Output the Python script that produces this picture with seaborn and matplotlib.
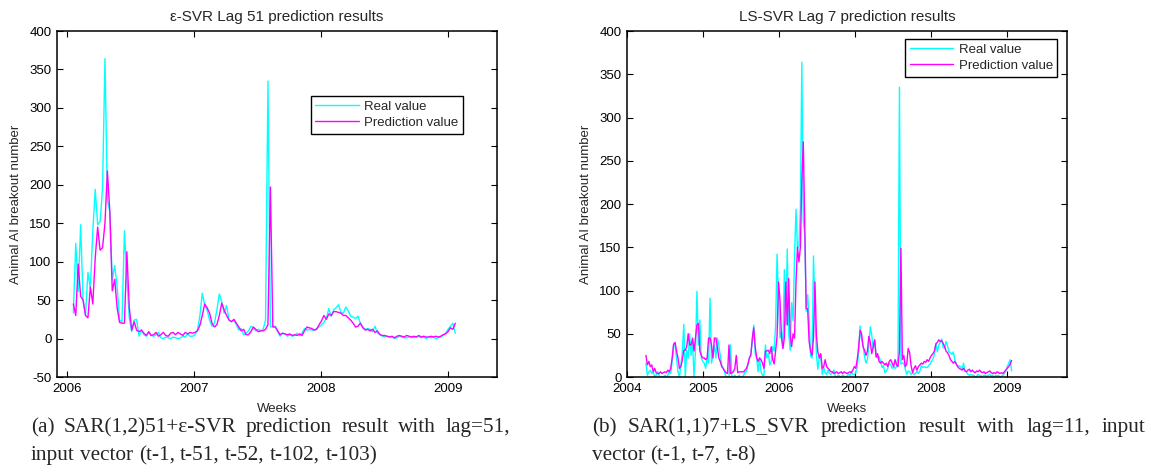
import matplotlib
matplotlib.use("Agg")
import matplotlib.pyplot as plt
import matplotlib.dates as mdates
import numpy as np
import pandas as pd
import seaborn as sns

# ---------------- data (weekly counts) ----------------
# real values, 2004-04 .. 2006-01 (only shown in the LS-SVR chart)
real_early = [16, 2, 6, 8, 4, 6, 0, 2, 6, 2,
              0, 0, 0, 2, 0, 2, 6, 4, 18, 37,
              37, 22, 6, 0, 14, 30, 61, 0, 31, 22,
              50, 25, 40, 0, 30, 99, 37, 66, 22, 18,
              16, 10, 22, 16, 91, 16, 25, 37, 22, 45,
              37, 25, 14, 10, 6, 0, 0, 0, 37, 0,
              0, 2, 0, 0, 2, 0, 0, 2, 6, 6,
              14, 22, 27, 40, 60, 27, 22, 6, 22, 6,
              2, 2, 37, 22, 27, 14, 18, 35, 30, 60,
              142, 91, 45, 52]
# real values, 2006-01 .. 2009-01 (both charts)
real_values = [33, 124, 61, 148, 50, 31, 86, 65, 140, 194,
               148, 152, 195, 364, 180, 165, 76, 95, 68, 24,
               22, 140, 78, 26, 9, 24, 25, 3, 11, 5,
               3, 8, 4, 3, 5, 8, 1, 0, 2, 1,
               0, 2, 1, 0, 1, 3, 2, 6, 3, 3,
               5, 11, 29, 59, 44, 37, 24, 16, 20, 37,
               58, 48, 33, 43, 24, 22, 24, 18, 11, 13,
               5, 7, 10, 16, 14, 10, 12, 10, 12, 24,
               335, 15, 16, 16, 9, 3, 7, 6, 3, 5,
               3, 4, 7, 4, 7, 13, 11, 12, 11, 11,
               13, 15, 18, 21, 26, 39, 29, 37, 40, 44,
               34, 33, 41, 36, 29, 28, 26, 29, 20, 15,
               12, 13, 12, 9, 16, 7, 6, 3, 2, 3,
               2, 2, 0, 1, 3, 2, 1, 1, 2, 2,
               1, 2, 3, 1, 2, 0, 2, 1, 2, 0,
               1, 2, 4, 7, 12, 16, 20, 7]
# epsilon-SVR prediction, 2006-01 .. 2009-01
pred_eps_svr = [45, 30, 97, 55, 50, 30, 27, 67, 45, 105,
                145, 115, 118, 150, 218, 165, 62, 77, 40, 21,
                20, 20, 113, 40, 11, 22, 11, 9, 11, 7,
                4, 9, 4, 5, 8, 3, 5, 8, 4, 3,
                7, 8, 5, 8, 6, 4, 8, 6, 8, 7,
                8, 10, 17, 30, 45, 40, 33, 20, 15, 18,
                30, 46, 37, 30, 24, 22, 25, 20, 15, 10,
                12, 5, 5, 9, 15, 12, 9, 10, 10, 12,
                18, 197, 15, 15, 10, 5, 7, 6, 5, 6,
                4, 5, 4, 6, 4, 10, 15, 14, 13, 11,
                12, 18, 23, 30, 25, 32, 30, 35, 35, 34,
                33, 30, 30, 27, 24, 20, 15, 16, 20, 14,
                11, 12, 10, 12, 8, 10, 5, 4, 4, 3,
                2, 3, 1, 3, 4, 3, 2, 4, 3, 2,
                3, 2, 4, 2, 3, 2, 2, 3, 2, 3,
                2, 3, 5, 6, 9, 14, 12, 20]
# LS-SVR prediction, 2004-04 .. 2006-01
pred_ls_early = [25, 14, 18, 12, 14, 6, 10, 5, 4, 4,
                 6, 4, 5, 6, 5, 8, 6, 10, 22, 38,
                 40, 30, 22, 10, 12, 20, 31, 31, 35, 50,
                 37, 37, 45, 30, 45, 60, 62, 30, 25, 22,
                 22, 20, 22, 45, 45, 37, 22, 45, 45, 35,
                 22, 18, 12, 10, 7, 5, 4, 37, 4, 5,
                 6, 10, 25, 5, 6, 6, 6, 6, 8, 10,
                 15, 22, 25, 45, 57, 35, 22, 18, 22, 20,
                 16, 10, 30, 30, 31, 27, 35, 20, 15, 30,
                 47, 110, 89, 47]
# LS-SVR prediction, 2006-01 .. 2009-01
pred_ls_svr = [33, 45, 110, 60, 114, 48, 35, 50, 45, 110,
               150, 133, 150, 227, 272, 175, 79, 79, 41, 30,
               25, 45, 110, 48, 29, 22, 27, 10, 12, 20,
               12, 10, 8, 6, 6, 4, 5, 6, 4, 5,
               6, 4, 6, 5, 4, 5, 6, 5, 8, 12,
               10, 20, 35, 54, 50, 35, 31, 25, 30, 47,
               40, 27, 35, 43, 23, 27, 18, 16, 18, 16,
               14, 16, 12, 18, 20, 16, 12, 20, 14, 12,
               30, 149, 20, 25, 12, 15, 33, 28, 13, 5,
               10, 13, 8, 12, 14, 16, 15, 18, 17, 20,
               18, 22, 25, 27, 30, 38, 40, 43, 41, 42,
               39, 35, 30, 28, 25, 20, 18, 16, 18, 15,
               12, 10, 9, 8, 10, 7, 6, 8, 9, 6,
               8, 6, 5, 7, 6, 8, 6, 5, 6, 4,
               5, 6, 7, 5, 4, 5, 4, 6, 5, 4,
               5, 4, 6, 8, 10, 12, 15, 19]

left_start = pd.Timestamp("2006-01-19")
titles = ["\u03b5-SVR Lag 51 prediction results", "LS-SVR Lag 7 prediction results"]
legend_labels = ["Real value", "Prediction value"]
x_label = "Weeks"
y_label = "Animal AI breakout number"
captions = [
    ("(a) SAR(1,2)51+\u03b5-SVR prediction result with lag=51,",
     "input vector (t-1, t-51, t-52, t-102, t-103)"),
    ("(b) SAR(1,1)7+LS_SVR prediction result with lag=11, input",
     "vector (t-1, t-7, t-8)"),
]

# ---------------- style ----------------
sns.set_style("ticks")
plt.rcParams["font.family"] = ["Liberation Sans", "DejaVu Sans"]
plt.rcParams["axes.linewidth"] = 1.1
plt.rcParams["axes.unicode_minus"] = False
plt.rcParams["xtick.direction"] = "in"
plt.rcParams["ytick.direction"] = "in"

CYAN = "#00FFFF"
MAGENTA = "#FF00FF"

W, H = 1151, 473
fig = plt.figure(figsize=(W / 100, H / 100), dpi=100)


def px_axes(x0, y0, x1, y1):
    return fig.add_axes([x0 / W, 1 - y1 / H, (x1 - x0) / W, (y1 - y0) / H])


ax1 = px_axes(57, 31, 497, 377)
ax2 = px_axes(627, 31, 1067, 377)

n_early = len(real_early)
left_dates = pd.date_range(left_start, periods=len(real_values), freq="7D")
full_dates = pd.date_range(left_start - pd.Timedelta(weeks=n_early),
                           periods=n_early + len(real_values), freq="7D")
full_real = real_early + real_values
full_pred_ls = pred_ls_early + pred_ls_svr

sns.lineplot(x=left_dates, y=real_values, ax=ax1, color=CYAN, linewidth=1.0,
             label=legend_labels[0])
sns.lineplot(x=left_dates, y=pred_eps_svr, ax=ax1, color=MAGENTA, linewidth=1.0,
             label=legend_labels[1])
sns.lineplot(x=full_dates, y=full_real, ax=ax2, color=CYAN, linewidth=1.0,
             label=legend_labels[0])
sns.lineplot(x=full_dates, y=full_pred_ls, ax=ax2, color=MAGENTA, linewidth=1.0,
             label=legend_labels[1])

ax1.set_xlim(pd.Timestamp("2005-12-03"), pd.Timestamp("2009-05-22"))
ax2.set_xlim(pd.Timestamp("2004-01-01"), pd.Timestamp("2009-10-15"))
ax1.set_ylim(-50, 400)
ax2.set_ylim(0, 400)
ax1.set_yticks(np.arange(-50, 401, 50))
ax2.set_yticks(np.arange(0, 401, 50))

legend_pos = [(0.577, 0.812), (0.632, 0.977)]
for ax, title, lpos in zip([ax1, ax2], titles, legend_pos):
    ax.xaxis.set_major_locator(mdates.YearLocator())
    ax.xaxis.set_major_formatter(mdates.DateFormatter("%Y"))
    ax.tick_params(axis="both", which="major", labelsize=9.5, length=4, width=0.8,
                   top=True, right=True, pad=4, colors="black")
    for s in ax.spines.values():
        s.set_visible(True)
        s.set_color("black")
    ax.set_title(title, fontsize=11, pad=7)
    ax.set_xlabel(x_label, fontsize=9.5)
    ax.set_ylabel(y_label, fontsize=9.5)
    ax.xaxis.set_label_coords(0.5, -0.075)
    ax.yaxis.set_label_coords(-0.08, 0.5)
    leg = ax.legend(loc="upper left", bbox_to_anchor=lpos, borderaxespad=0,
                    fontsize=9.5, frameon=True, fancybox=False, framealpha=1,
                    edgecolor="black", handlelength=3.3, handletextpad=0.4,
                    labelspacing=0.3, borderpad=0.35)
    leg.get_frame().set_linewidth(1.0)
    ax.grid(False)

# ---------------- captions ----------------
renderer = fig.canvas.get_renderer()
CAP_SIZE = 15.3


def put_line(text, x0, y_base, x1=None, size=CAP_SIZE):
    words = text.split()
    arts = [fig.text(0, 1 - y_base / H, w, fontsize=size, va="baseline",
                     family=["Liberation Serif", "DejaVu Serif"]) for w in words]
    widths = [a.get_window_extent(renderer).width for a in arts]
    if x1 is None:
        sp = fig.text(0, 0, "a a", fontsize=size, family="Liberation Serif")
        sp2 = fig.text(0, 0, "aa", fontsize=size, family="Liberation Serif")
        gap = sp.get_window_extent(renderer).width - sp2.get_window_extent(renderer).width
        sp.remove(); sp2.remove()
    else:
        gap = ((x1 - x0) - sum(widths)) / (len(words) - 1)
    x = x0
    for a, w in zip(arts, widths):
        a.set_x(x / W)
        x += w + gap


put_line(captions[0][0], 31, 432, 510)
put_line(captions[0][1], 31, 460)
put_line(captions[1][0], 592, 432, 1145)
put_line(captions[1][1], 592, 460)

fig.savefig("out.png", dpi=100)
